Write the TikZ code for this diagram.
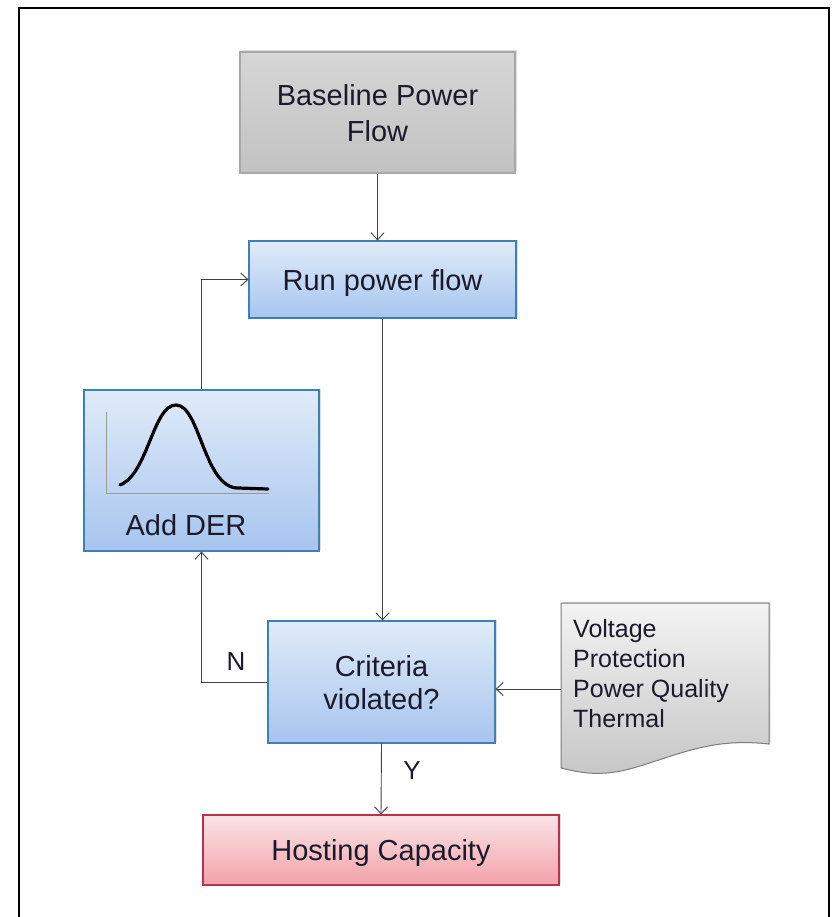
\documentclass[tikz,border=0pt]{standalone}
\usepackage{fontspec}
\setmainfont{Liberation Sans}
\usetikzlibrary{arrows.meta,shadows}
\definecolor{blueTop}{HTML}{E0EBF9}
\definecolor{blueBot}{HTML}{A7C5EE}
\definecolor{blueLine}{HTML}{3C80B4}
\definecolor{grayTop}{HTML}{D6D6D6}
\definecolor{grayBot}{HTML}{C2C2C2}
\definecolor{grayLine}{HTML}{A8A8A8}
\definecolor{pinkTop}{HTML}{FBE4E6}
\definecolor{pinkBot}{HTML}{F1A2A9}
\definecolor{pinkLine}{HTML}{BE2F4C}
\definecolor{docTop}{HTML}{F3F3F3}
\definecolor{docBot}{HTML}{C6C6C6}
\definecolor{docLine}{HTML}{7C7C7C}
\definecolor{txt}{HTML}{1A1A2A}
\tikzset{
  box/.style={draw, line width=1.2pt, inner sep=0pt, align=center,
    text=txt, text depth=0pt, font=\fontsize{29}{35}\selectfont,
    drop shadow={opacity=0.25, shadow xshift=1.5pt, shadow yshift=1.5pt}},
  bluebox/.style={box, draw=blueLine, top color=blueTop, bottom color=blueBot},
  graybox/.style={box, draw=grayLine, top color=grayTop, bottom color=grayBot},
  pinkbox/.style={box, draw=pinkLine, top color=pinkTop, bottom color=pinkBot},
  conn/.style={draw=black!75, line width=0.9pt,
    -{Straight Barb[length=7pt, width=13pt, line width=0.9pt]}},
  lbl/.style={font=\fontsize{26}{30}\selectfont, text=txt, inner sep=0pt}
}
\begin{document}
\begin{tikzpicture}[x=1pt,y=-1pt]
\useasboundingbox (0,0) rectangle (834,917);
% frame
\draw[line width=1.6pt] (19,917) -- (19,8) -- (829,8) -- (829,917);

% nodes
\node[graybox, minimum width=275pt, minimum height=121pt,
  font=\fontsize{29}{36}\selectfont] (base) at (377.5,112.5) {Baseline Power\\Flow};
\node[bluebox, minimum width=267pt, minimum height=77pt] (run) at (382.5,279.5) {Run power flow};
\node[bluebox, minimum width=235pt, minimum height=161pt] (der) at (201.5,470.5) {};
\node[bluebox, minimum width=227pt, minimum height=122pt,
  font=\fontsize{29}{33}\selectfont] (crit) at (381.5,682) {Criteria\\violated?};
\node[pinkbox, minimum width=356pt, minimum height=70pt] (host) at (381,850) {Hosting Capacity};

% DER content
\node[font=\fontsize{29}{35}\selectfont, text=txt, inner sep=0pt] (dertxt) at (186,525) {Add DER};
\draw[draw=gray!80, line width=1pt] (106,412) -- (106,493) -- (269,493);
\draw[line width=3.2pt, line cap=round] (120,485)
  .. controls (148,474) and (153,405) .. (176,405)
  .. controls (200,405) and (204,488) .. (238,488) -- (268,489);

% document shape
\draw[draw=docLine, line width=1pt, top color=docTop, bottom color=docBot,
  drop shadow={opacity=0.25, shadow xshift=1.5pt, shadow yshift=1.5pt}]
  (561,603) -- (769,603) -- (769,744)
  .. controls (715,738) and (685,752) .. (640,766)
  .. controls (605,777) and (585,774) .. (561,768) -- cycle;
\node[anchor=north west, align=left, inner sep=0pt, text=txt,
  font=\fontsize{25}{30}\selectfont] (doc) at (573,619) {Voltage\\Protection\\Power Quality\\Thermal};
\coordinate (docw) at (561,689);

% connectors
\draw[conn] (base.south) -- (base.south |- run.north);
\draw[conn] (run.south) -- (run.south |- crit.north);
\draw[conn] (crit.west) -| (der.south);
\draw[conn] (der.north) |- (run.west);
\draw[conn] (docw) -- (crit.east |- docw);
\draw[conn] (crit.south) -- (host.north);

% labels
\node[lbl] (nlbl) at (236,662) {N};
\node[lbl] (ylbl) at (412,771) {Y};
\end{tikzpicture}
\end{document}
